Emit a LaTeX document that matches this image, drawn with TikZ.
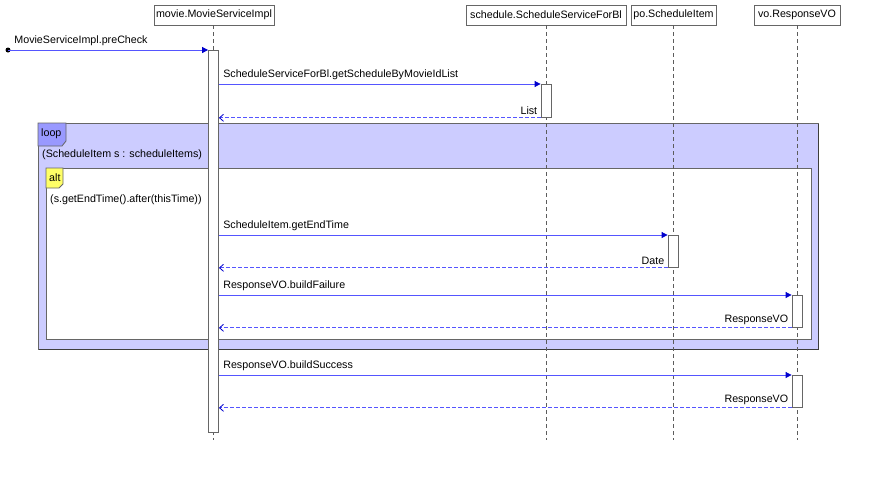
\documentclass[tikz,border=0pt]{standalone}
\usepackage{fontspec}
\setmainfont{Liberation Sans}
\usetikzlibrary{arrows.meta}
\definecolor{msgblue}{HTML}{5555FF}
\definecolor{tipblue}{HTML}{0000CC}
\definecolor{loopfill}{HTML}{CCCCFF}
\definecolor{looptag}{HTML}{9999FF}
\definecolor{alttag}{HTML}{FFFF66}
\definecolor{edge}{HTML}{666666}
\begin{document}
\begin{tikzpicture}[x=1pt,y=-1pt,
  font=\fontsize{10.7}{12}\selectfont,
  head/.style={draw=edge,fill=white,minimum height=20pt,inner sep=1pt,line width=0.8pt},
  life/.style={draw=edge!90!black,dash pattern=on 4pt off 3pt,line width=0.9pt},
  actbar/.style={draw=edge,fill=white,line width=0.8pt,minimum width=10pt,inner sep=0pt},
  msg/.style={draw=msgblue,line width=0.8pt,-{Triangle[length=6pt,width=6pt,fill=tipblue,color=tipblue]}},
  ret/.style={draw=msgblue,line width=0.8pt,dash pattern=on 4pt off 2pt,-{Straight Barb[length=4pt,width=7pt,color=tipblue]}},
  lbl/.style={inner sep=1pt,text=black}
]
\useasboundingbox (0,0) rectangle (895,496);

% loop frame
\path[fill=loopfill,draw=edge,line width=0.8pt] (38,123) rectangle (818,349);
\draw[edge!60!black,line width=0.8pt] (818,124) -- (818,349) -- (39,349);
\path[fill=white,draw=edge,line width=0.8pt] (46,168) rectangle (811,339);
\draw[fill=looptag,draw=edge,line width=0.8pt] (38,123) -- (66,123) -- (66,141) -- (62,146) -- (38,146) -- cycle;
\node[lbl,anchor=west] (looplbl) at (40,134) {loop};
\node[lbl,anchor=west] (loopcond) at (41,155) {(ScheduleItem s : scheduleItems)};
\draw[fill=alttag,draw=edge,line width=0.8pt] (46,168) -- (63,168) -- (63,184) -- (59,188) -- (46,188) -- cycle;
\node[lbl,anchor=west] (altlbl) at (48,178) {alt};
\node[lbl,anchor=west] (altcond) at (49,200) {(s.getEndTime().after(thisTime))};

% heads
\node[head,minimum width=120pt] (h0) at (214,15) {movie.MovieServiceImpl};
\node[head,minimum width=160pt] (h1) at (546,15) {schedule.ScheduleServiceForBl};
\node[head,minimum width=85pt] (h2) at (673.5,15) {po.ScheduleItem};
\node[head,minimum width=86pt] (h3) at (797,15) {vo.ResponseVO};

% lifelines
\coordinate (e0) at (213,440);
\coordinate (e1) at (546,440);
\coordinate (e2) at (673,440);
\coordinate (e3) at (797,440);
\draw[life] (h0.south -| e0) -- (e0);
\draw[life] (h1.south -| e1) -- (e1);
\draw[life] (h2.south -| e2) -- (e2);
\draw[life] (h3.south -| e3) -- (e3);

% activations
\node[actbar,minimum height=382pt,anchor=north] (a0) at (213.5,50) {};
\node[actbar,minimum height=33pt,anchor=north] (a1) at (546,84) {};
\node[actbar,minimum height=32pt,anchor=north] (a2) at (673,235) {};
\node[actbar,minimum height=32pt,anchor=north] (a3) at (797,295) {};
\node[actbar,minimum height=32pt,anchor=north] (a4) at (797,375) {};

% messages
\coordinate (start) at (8,50);
\fill (start) circle (2.5pt);
\draw[msg] (start) -- (a0.north west) node[lbl,pos=0,anchor=south west,xshift=5pt,yshift=3pt] {MovieServiceImpl.preCheck};

\draw[msg] (a0.east |- a1.north) -- (a1.north west) node[lbl,pos=0,anchor=south west,xshift=3pt,yshift=3pt] {ScheduleServiceForBl.getScheduleByMovieIdList};
\draw[ret] (a1.south west) -- (a0.east |- a1.south) node[lbl,pos=0,anchor=south east,xshift=-2pt,yshift=1.5pt] {List};

\draw[msg] (a0.east |- a2.north) -- (a2.north west) node[lbl,pos=0,anchor=south west,xshift=3pt,yshift=3pt] {ScheduleItem.getEndTime};
\draw[ret] (a2.south west) -- (a0.east |- a2.south) node[lbl,pos=0,anchor=south east,xshift=-2pt,yshift=1.5pt] {Date};

\draw[msg] (a0.east |- a3.north) -- (a3.north west) node[lbl,pos=0,anchor=south west,xshift=3pt,yshift=3pt] {ResponseVO.buildFailure};
\draw[ret] (a3.south west) -- (a0.east |- a3.south) node[lbl,pos=0,anchor=south east,xshift=-2pt,yshift=1.5pt] {ResponseVO};

\draw[msg] (a0.east |- a4.north) -- (a4.north west) node[lbl,pos=0,anchor=south west,xshift=3pt,yshift=3pt] {ResponseVO.buildSuccess};
\draw[ret] (a4.south west) -- (a0.east |- a4.south) node[lbl,pos=0,anchor=south east,xshift=-2pt,yshift=1.5pt] {ResponseVO};
\end{tikzpicture}
\end{document}
